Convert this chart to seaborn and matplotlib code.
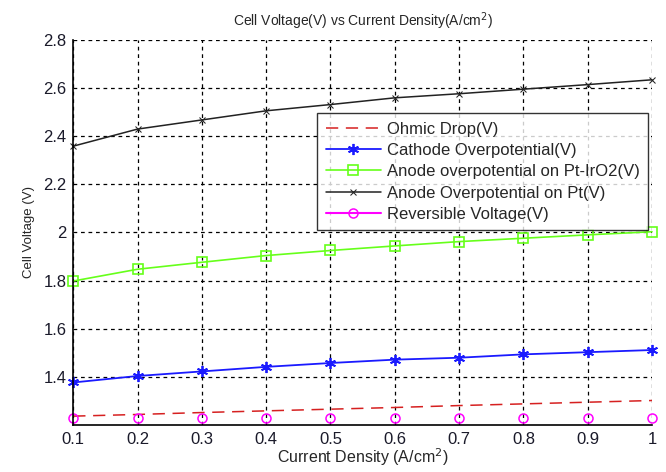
import seaborn as sns
import matplotlib.pyplot as plt

# current density (A/cm^2)
current = [0.1, 0.2, 0.3, 0.4, 0.5, 0.6, 0.7, 0.8, 0.9, 1.0]

# cell voltage series (V)
ohmic = [1.236, 1.243, 1.251, 1.258, 1.265, 1.272, 1.280, 1.287, 1.294, 1.301]
cathode = [1.376, 1.403, 1.422, 1.441, 1.457, 1.471, 1.479, 1.493, 1.502, 1.511]
anode_ptiro2 = [1.798, 1.847, 1.876, 1.904, 1.925, 1.944, 1.962, 1.976, 1.990, 2.003]
anode_pt = [2.359, 2.430, 2.468, 2.506, 2.532, 2.560, 2.577, 2.596, 2.615, 2.635]
reversible = [1.229] * 10

x_ticks = [0.1, 0.2, 0.3, 0.4, 0.5, 0.6, 0.7, 0.8, 0.9, 1.0]
x_tick_labels = ['0.1', '0.2', '0.3', '0.4', '0.5', '0.6', '0.7', '0.8', '0.9', '1']
y_ticks = [1.4, 1.6, 1.8, 2.0, 2.2, 2.4, 2.6, 2.8]
y_tick_labels = ['1.4', '1.6', '1.8', '2', '2.2', '2.4', '2.6', '2.8']

sns.set_style("white")
plt.rcParams['font.family'] = ['Liberation Sans', 'DejaVu Sans']

fig = plt.figure(figsize=(6.66, 4.72), dpi=100)
ax = fig.add_axes([0.110, 0.100, 0.869, 0.815])

sns.lineplot(x=current, y=ohmic, ax=ax, color='#d62020', linestyle=(0, (8, 5)),
             linewidth=1.1, label='Ohmic Drop(V)')
sns.lineplot(x=current, y=cathode, ax=ax, color='#1a1aff', marker=(6, 2, 0), markersize=8,
             linewidth=1.3, markeredgecolor='#1a1aff', markeredgewidth=1.3, clip_on=False,
             label='Cathode Overpotential(V)')
sns.lineplot(x=current, y=anode_ptiro2, ax=ax, color='#66ff1a', marker='s', markersize=6.5,
             markerfacecolor='none', markeredgecolor='#66ff1a', markeredgewidth=1.2,
             linewidth=1.2, clip_on=False, label='Anode overpotential on Pt-IrO2(V)')
sns.lineplot(x=current, y=anode_pt, ax=ax, color='#222222', marker='x', markersize=5,
             markeredgecolor='#222222', linewidth=1.1, clip_on=False,
             label='Anode Overpotential on Pt(V)')
sns.lineplot(x=current, y=reversible, ax=ax, color='#ff00ff', marker='o', markersize=6.5,
             markerfacecolor='none', markeredgecolor='#ff00ff', markeredgewidth=1.1,
             linestyle='none', clip_on=False, label='Reversible Voltage(V)')

ax.set_xlim(0.1, 1.0)
ax.set_ylim(1.2, 2.8)
ax.set_xticks(x_ticks)
ax.set_xticklabels(x_tick_labels)
ax.set_yticks(y_ticks)
ax.set_yticklabels(y_tick_labels)
ax.tick_params(direction='in', length=4, labelsize=12, colors='black', pad=5)
for lbl in ax.get_xticklabels() + ax.get_yticklabels():
    lbl.set_color('#1a1a2a')

ax.grid(True, color='black', linestyle=(0, (3, 3)), linewidth=0.9)
ax.set_axisbelow(True)
for side in ['top', 'right']:
    ax.spines[side].set_visible(False)
for side in ['left', 'bottom']:
    ax.spines[side].set_color('black')
    ax.spines[side].set_linewidth(1.2)

ax.set_title('Cell Voltage(V) vs Current Density(A/cm$^2$)', fontsize=10, pad=10)
ax.set_xlabel('Current Density (A/cm$^2$)', fontsize=11.5, labelpad=0)
ax.set_ylabel('Cell Voltage (V)', fontsize=9.5, labelpad=6)

leg = ax.legend(loc='upper left', bbox_to_anchor=(0.422, 0.81), fontsize=12,
                handlelength=3.3, frameon=True, fancybox=False, borderpad=0.5,
                labelspacing=0.38, borderaxespad=0, handletextpad=0.36)
leg.get_frame().set_edgecolor('black')
leg.get_frame().set_linewidth(1.0)
# line for the reversible voltage in the legend
leg.get_lines()[4].set_linestyle('-')

fig.savefig('out.png', dpi=100)
